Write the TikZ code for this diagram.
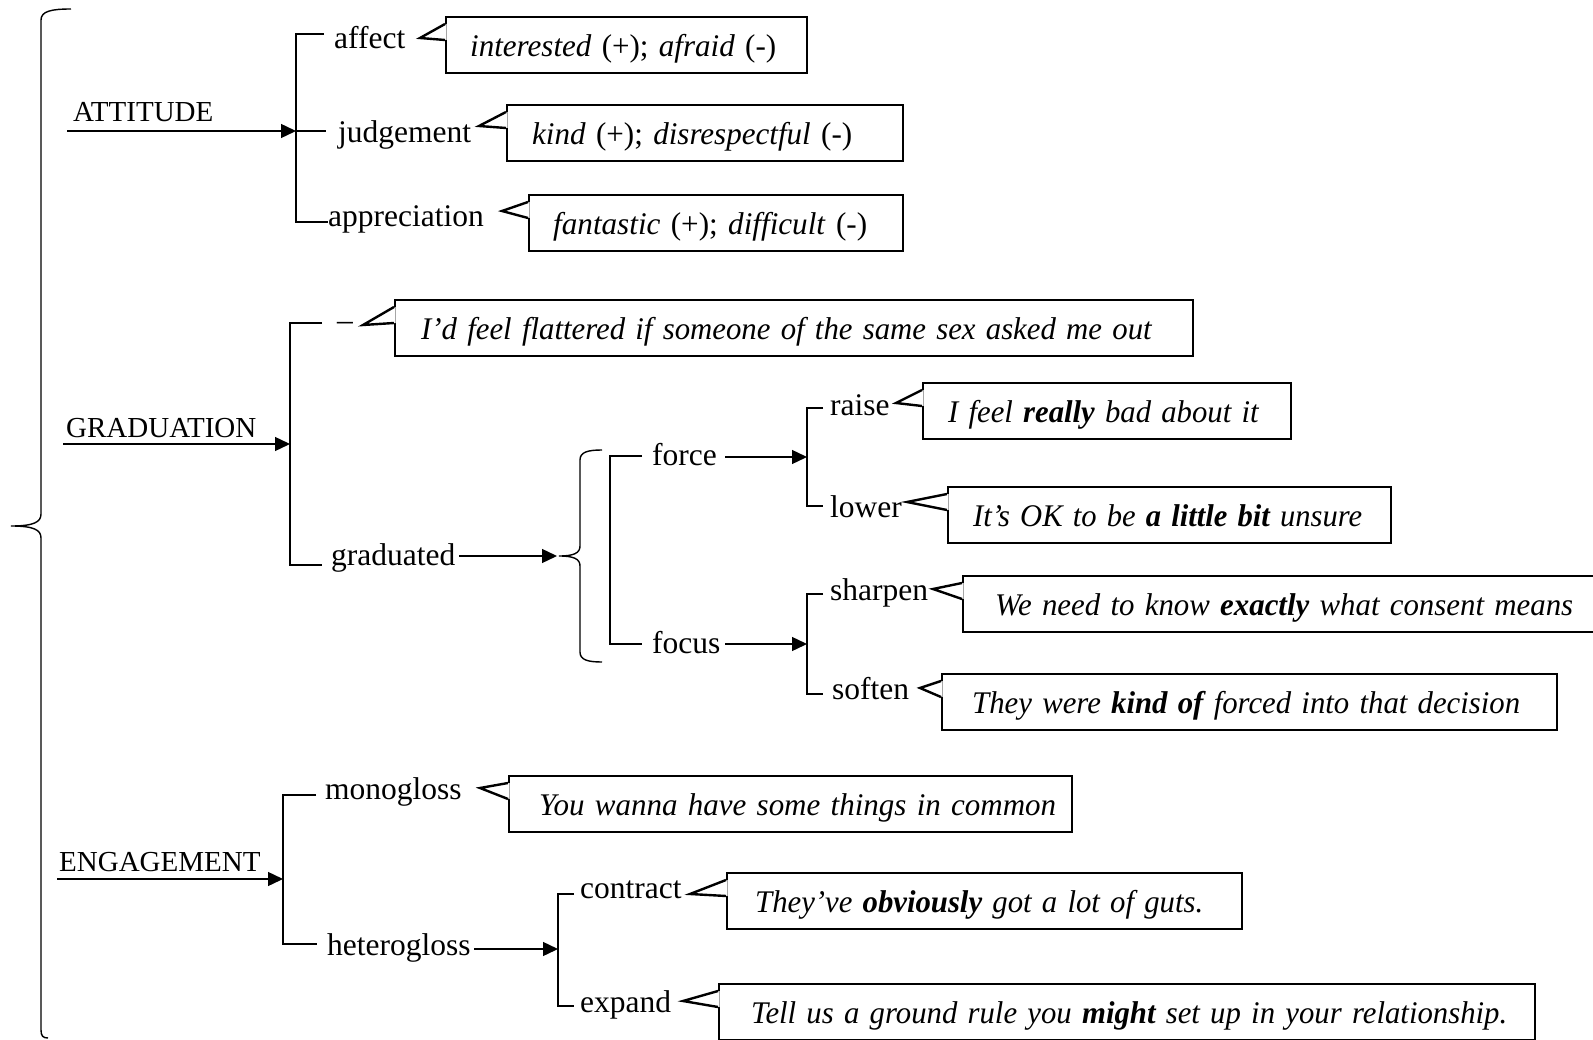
\documentclass[tikz,border=0pt]{standalone}
\usepackage{fontspec}
\setmainfont{Liberation Serif}
\usetikzlibrary{arrows.meta,calc}

% pointer of a speech box: #1 box node, #2 tip coordinate
\newcommand\quotetail[2]{%
  \fill[white] ($(#1.north west)+(1.5,8)$) -- (#2) -- ($(#1.north west)+(1.5,24)$) -- cycle;
  \draw[boxline] ($(#1.north west)+(0,8)$) -- (#2) -- ($(#1.north west)+(0,24)$);
}
% quoted example: left indent, set width, text
\newcommand\qtext[3]{\hspace*{#1}\resizebox{#2}{\height}{#3}}

\begin{document}
\begin{tikzpicture}[x=1pt,y=-1pt,
  tree/.style={line width=1.4pt},
  arr/.style={tree,-{Triangle[length=15pt,width=14pt]}},
  boxline/.style={line width=2.4pt,line join=miter},
  lab/.style={anchor=base west,inner sep=0pt,font=\fontsize{31.5}{36}\selectfont},
  cat/.style={anchor=base west,inner sep=0pt,font=\fontsize{29}{34}\selectfont},
  quote/.style={draw,boxline,anchor=north west,minimum height=56pt,
    inner xsep=8pt,inner ysep=12pt,text height=27pt,text depth=5pt,
    align=left,font=\fontsize{31.5}{36}\selectfont},
]
\useasboundingbox (0,0) rectangle (1593,1040);
\clip (0,0) rectangle (1593,1040);

% ---------- outer brace ----------
\coordinate (brTop) at (71,9);
\coordinate (brTip) at (11,526);
\coordinate (brBot) at (48,1038);
\draw[tree] (brTop) .. controls (52,9) and (41,11) .. (41,20) -- (41,514)
  .. controls (41,522) and (34,526) .. (brTip)
  .. controls (34,526) and (41,530) .. (41,538) -- (41,1030)
  .. controls (41,1036) and (43,1038) .. (brBot);

% ---------- ATTITUDE ----------
\node[cat] (att) at (73,122) {ATTITUDE};
\node[lab] (affect) at (334,49) {affect};
\node[lab] (judg) at (338,143) {judgement};
\node[lab] (apprec) at (328,227) {appreciation};
\coordinate (aIn) at (67,131);
\coordinate (aJ) at (296,131);
\coordinate (aTop) at (296,34);
\coordinate (aBot) at (296,222);
\coordinate (aT1) at (324,34);
\coordinate (aT2) at (326,131);
\coordinate (aT3) at (328,222);
\draw[arr] (aIn) -- (aJ);
\draw[tree] (aT1) -- (aTop) -- (aBot) -- (aT3);
\draw[tree] (aJ) -- (aT2);

\node[quote,text width=345pt] (qAffect) at (445,16)
  {\qtext{16pt}{306pt}{\textit{interested} (+); \textit{afraid} (-)}};
\node[quote,text width=380pt] (qJudg) at (506,104)
  {\qtext{17pt}{320pt}{\textit{kind} (+); \textit{disrespectful} (-)}};
\node[quote,text width=358pt] (qApprec) at (528,194)
  {\qtext{16pt}{314pt}{\textit{fantastic} (+); \textit{difficult} (-)}};
\coordinate (tAffect) at (420,38);
\coordinate (tJudg) at (479,126);
\coordinate (tApprec) at (502,211);
\quotetail{qAffect}{tAffect}
\quotetail{qJudg}{tJudg}
\quotetail{qApprec}{tApprec}

% ---------- GRADUATION ----------
\node[cat] (grad) at (66,437) {GRADUATION};
\node[lab] (ungr) at (337,331) {–};
\node[lab] (graded) at (331,565) {graduated};
\coordinate (gIn) at (63,444);
\coordinate (gJ) at (290,444);
\coordinate (gTop) at (290,323);
\coordinate (gBot) at (290,565);
\coordinate (gT1) at (322,323);
\coordinate (gT2) at (322,565);
\draw[arr] (gIn) -- (gJ);
\draw[tree] (gT1) -- (gTop) -- (gBot) -- (gT2);

\node[quote,text width=782pt] (qFlat) at (394,299)
  {\qtext{18pt}{731pt}{\textit{I’d feel flattered if someone of the same sex asked me out}}};
\coordinate (tFlat) at (363,325);
\quotetail{qFlat}{tFlat}

% graduated -> brace -> force / focus
\coordinate (grOut) at (459,556);
\coordinate (grIn) at (557,556);
\coordinate (grTip) at (559,556);
\draw[arr] (grOut) -- (grIn);
\draw[tree] (602,450) .. controls (588,450) and (580,452) .. (580,460) -- (580,546)
  .. controls (580,553) and (574,556) .. (grTip)
  .. controls (574,556) and (580,559) .. (580,566) -- (580,652)
  .. controls (580,660) and (588,662) .. (602,662);

\node[lab] (force) at (652,465) {force};
\node[lab] (focus) at (652,653) {focus};
\coordinate (fTop) at (610,456);
\coordinate (fBot) at (610,644);
\coordinate (fT1) at (642,456);
\coordinate (fT2) at (642,644);
\draw[tree] (fT1) -- (fTop) -- (fBot) -- (fT2);

% force -> raise / lower
\coordinate (foOut) at (725,457);
\coordinate (foJ) at (807,457);
\draw[arr] (foOut) -- (foJ);
\node[lab] (raise) at (830,415) {raise};
\node[lab] (lower) at (830,517) {lower};
\coordinate (rTop) at (807,408);
\coordinate (rBot) at (807,506);
\coordinate (rT1) at (823,408);
\coordinate (rT2) at (823,506);
\draw[tree] (rT1) -- (rTop) -- (rBot) -- (rT2);

% focus -> sharpen / soften
\coordinate (fcOut) at (725,644);
\coordinate (fcJ) at (807,644);
\draw[arr] (fcOut) -- (fcJ);
\node[lab] (sharpen) at (830,600) {sharpen};
\node[lab] (soften) at (832,699) {soften};
\coordinate (sTop) at (807,594);
\coordinate (sBot) at (807,694);
\coordinate (sT1) at (823,594);
\coordinate (sT2) at (823,694);
\draw[tree] (sT1) -- (sTop) -- (sBot) -- (sT2);

\node[quote,text width=352pt] (qRaise) at (922,382)
  {\qtext{17pt}{311pt}{\textit{I feel \textbf{really} bad about it}}};
\node[quote,text width=427pt] (qLower) at (947,486)
  {\qtext{17pt}{389pt}{\textit{It’s OK to be \textbf{a little bit} unsure}}};
\node[quote,text width=684pt] (qSharp) at (962,575)
  {\qtext{24pt}{578pt}{\textit{We need to know \textbf{exactly} what consent means}}};
\node[quote,text width=599pt] (qSoft) at (941,673)
  {\qtext{22pt}{548pt}{\textit{They were \textbf{kind of} forced into that decision}}};
\coordinate (tRaise) at (896,403);
\coordinate (tLower) at (907,502);
\coordinate (tSharp) at (933,589);
\coordinate (tSoft) at (920,688);
\quotetail{qRaise}{tRaise}
\quotetail{qLower}{tLower}
\quotetail{qSharp}{tSharp}
\quotetail{qSoft}{tSoft}

% ---------- ENGAGEMENT ----------
\node[cat] (eng) at (59,871) {ENGAGEMENT};
\node[lab] (mono) at (325,799) {monogloss};
\node[lab] (hetero) at (327,955) {heterogloss};
\coordinate (eIn) at (57,879);
\coordinate (eJ) at (283,879);
\coordinate (eTop) at (283,795);
\coordinate (eBot) at (283,944);
\coordinate (eT1) at (316,795);
\coordinate (eT2) at (317,944);
\draw[arr] (eIn) -- (eJ);
\draw[tree] (eT1) -- (eTop) -- (eBot) -- (eT2);

\coordinate (hOut) at (474,949);
\coordinate (hJ) at (558,949);
\draw[arr] (hOut) -- (hJ);
\node[lab] (contract) at (580,898) {contract};
\node[lab] (expand) at (580,1012) {expand};
\coordinate (cTop) at (558,894);
\coordinate (cBot) at (558,1006);
\coordinate (cT1) at (574,894);
\coordinate (cT2) at (574,1006);
\draw[tree] (cT1) -- (cTop) -- (cBot) -- (cT2);

\node[quote,text width=547pt] (qMono) at (508,775)
  {\qtext{22pt}{517pt}{\textit{You wanna have some things in common}}};
\node[quote,text width=499pt] (qContr) at (726,872)
  {\qtext{20pt}{448pt}{\textit{They’ve \textbf{obviously} got a lot of guts.}}};
\node[quote,text width=800pt] (qExp) at (718,983)
  {\qtext{24pt}{756pt}{\textit{Tell us a ground rule you \textbf{might} set up in your relationship.}}};
\coordinate (tMono) at (480,788);
\coordinate (tContr) at (690,894);
\coordinate (tExp) at (683,1001);
\quotetail{qMono}{tMono}
\quotetail{qContr}{tContr}
\quotetail{qExp}{tExp}
\end{tikzpicture}
\end{document}
